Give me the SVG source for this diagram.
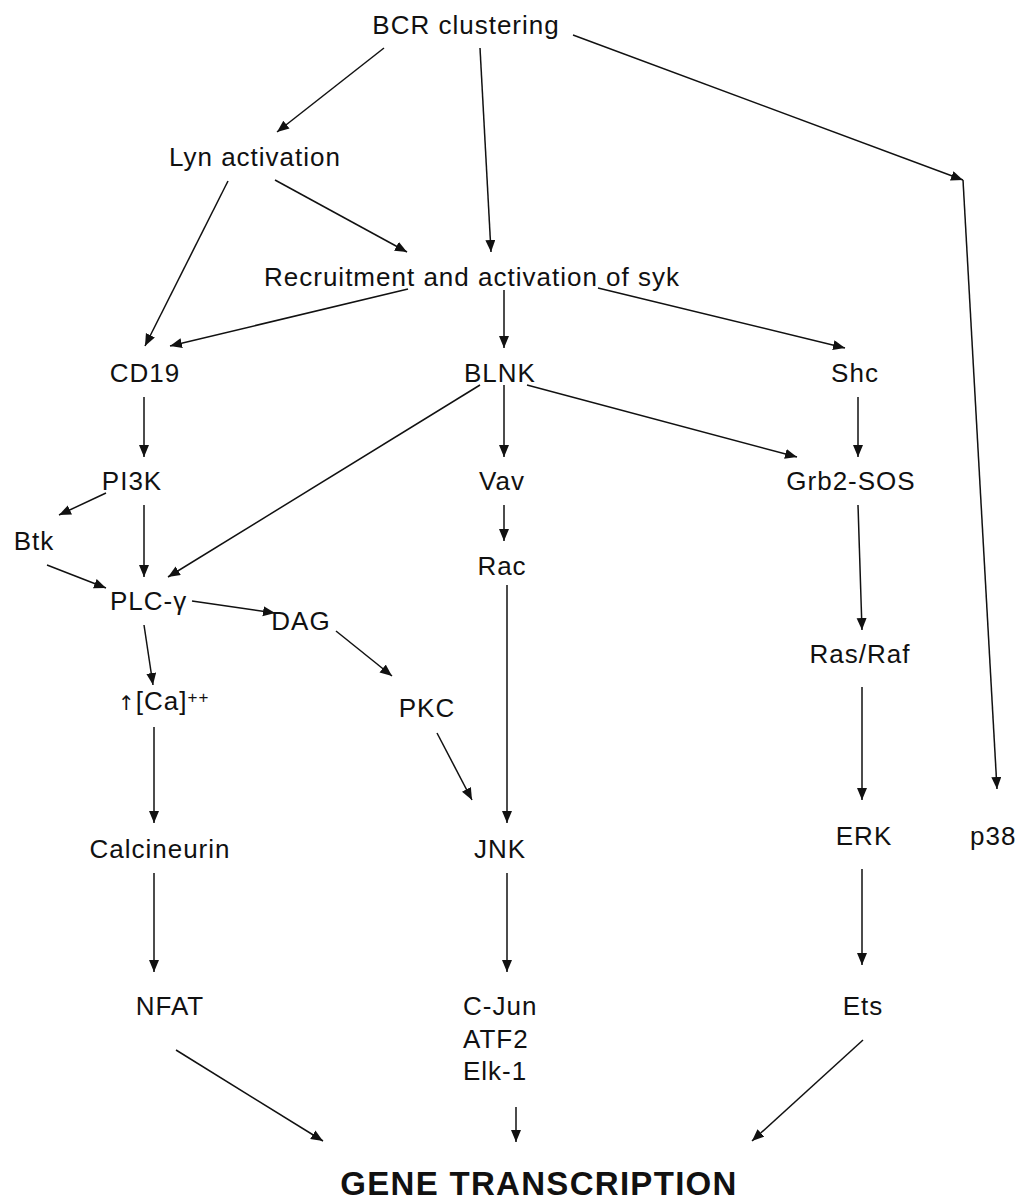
<svg xmlns="http://www.w3.org/2000/svg" width="1032" height="1201" viewBox="0 0 1032 1201">
<style>
  text { font-family: "Liberation Sans", Arial, sans-serif; font-size: 26px; letter-spacing: 1px; fill: #111; }
  .c { text-anchor: middle; }
  .title { font-size: 33px; font-weight: bold; letter-spacing: 1.3px; }
  .sup { font-size: 17px; }
  .up { font-family: "DejaVu Sans", sans-serif; font-size: 20px; fill: #111; }
  .conn { stroke: #111; stroke-width: 1.5; fill: none; marker-end: url(#ah); }
</style>
<defs>
  <marker id="ah" markerUnits="userSpaceOnUse" markerWidth="13" markerHeight="11" refX="12" refY="5" orient="auto">
    <path d="M0,0 L12,5 L0,10 z" fill="#111"/>
  </marker>
</defs>
<rect width="1032" height="1201" fill="#fff"/>
<g id="connectors">
  <line class="conn" x1="384" y1="48" x2="277" y2="132"/>
  <line class="conn" x1="275" y1="180" x2="407" y2="252"/>
  <line class="conn" x1="480" y1="48" x2="491" y2="252"/>
  <line class="conn" x1="573" y1="35" x2="963" y2="180"/>
  <line class="conn" x1="963" y1="180" x2="997" y2="789"/>
  <line class="conn" x1="408" y1="289" x2="170" y2="346"/>
  <line class="conn" x1="228" y1="181" x2="145" y2="346"/>
  <line class="conn" x1="504" y1="290" x2="504" y2="348"/>
  <line class="conn" x1="598" y1="288" x2="845" y2="348"/>
  <line class="conn" x1="144" y1="397" x2="144" y2="457"/>
  <line class="conn" x1="504" y1="385" x2="504" y2="457"/>
  <line class="conn" x1="858" y1="397" x2="858" y2="457"/>
  <line class="conn" x1="527" y1="385" x2="797" y2="457"/>
  <line class="conn" x1="480" y1="385" x2="168" y2="577"/>
  <line class="conn" x1="106" y1="493" x2="59" y2="515"/>
  <line class="conn" x1="144" y1="505" x2="144" y2="577"/>
  <line class="conn" x1="47" y1="565" x2="106" y2="588"/>
  <line class="conn" x1="504" y1="505" x2="504" y2="541"/>
  <line class="conn" x1="192" y1="601" x2="275" y2="613"/>
  <line class="conn" x1="144" y1="625" x2="153" y2="685"/>
  <line class="conn" x1="336" y1="631" x2="392" y2="676"/>
  <line class="conn" x1="507" y1="585" x2="507" y2="823"/>
  <line class="conn" x1="437" y1="733" x2="472" y2="800"/>
  <line class="conn" x1="858" y1="505" x2="862" y2="630"/>
  <line class="conn" x1="862" y1="687" x2="862" y2="800"/>
  <line class="conn" x1="154" y1="727" x2="154" y2="823"/>
  <line class="conn" x1="154" y1="873" x2="154" y2="972"/>
  <line class="conn" x1="507" y1="873" x2="507" y2="972"/>
  <line class="conn" x1="862" y1="869" x2="862" y2="965"/>
  <line class="conn" x1="176" y1="1050" x2="323" y2="1141"/>
  <line class="conn" x1="516" y1="1107" x2="516" y2="1142"/>
  <line class="conn" x1="863" y1="1040" x2="752" y2="1141"/>
</g>
<g id="node-bcr"><text class="c" x="466" y="34">BCR clustering</text></g>
<g id="node-lyn"><text class="c" x="255" y="166">Lyn activation</text></g>
<g id="node-syk"><text class="c" x="472" y="286">Recruitment and activation of syk</text></g>
<g id="node-cd19"><text class="c" x="145" y="382">CD19</text></g>
<g id="node-blnk"><text class="c" x="500" y="382">BLNK</text></g>
<g id="node-shc"><text class="c" x="855" y="382">Shc</text></g>
<g id="node-pi3k"><text class="c" x="132" y="490">PI3K</text></g>
<g id="node-vav"><text class="c" x="502" y="490">Vav</text></g>
<g id="node-grb2"><text class="c" x="851" y="490">Grb2-SOS</text></g>
<g id="node-btk"><text class="c" x="34" y="550">Btk</text></g>
<g id="node-rac"><text class="c" x="502" y="575">Rac</text></g>
<g id="node-plc"><text x="110" y="610">PLC-γ</text></g>
<g id="node-dag"><text class="c" x="301" y="630">DAG</text></g>
<g id="node-ca"><text x="118" y="710"><tspan class="up">↑</tspan>[Ca]<tspan class="sup" dy="-7">++</tspan></text></g>
<g id="node-pkc"><text class="c" x="427" y="717">PKC</text></g>
<g id="node-rasraf"><text class="c" x="860" y="663">Ras/Raf</text></g>
<g id="node-calcineurin"><text class="c" x="160" y="858">Calcineurin</text></g>
<g id="node-jnk"><text class="c" x="500" y="858">JNK</text></g>
<g id="node-erk"><text class="c" x="864" y="845">ERK</text></g>
<g id="node-p38"><text x="970" y="845">p38</text></g>
<g id="node-nfat"><text class="c" x="170" y="1015">NFAT</text></g>
<g id="node-cjun"><text x="463" y="1015">C-Jun</text><text x="463" y="1048">ATF2</text><text x="463" y="1080">Elk-1</text></g>
<g id="node-ets"><text class="c" x="863" y="1015">Ets</text></g>
<g id="node-gene"><text class="c title" x="539" y="1195">GENE TRANSCRIPTION</text></g>
</svg>
